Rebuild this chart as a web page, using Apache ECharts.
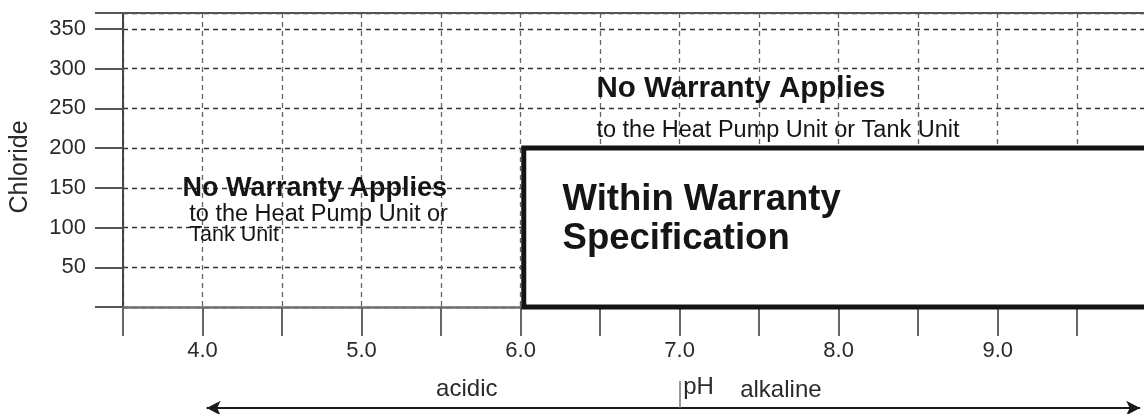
<!DOCTYPE html>
<html>
<head>
<meta charset="utf-8">
<script src="https://cdn.jsdelivr.net/npm/echarts@6/dist/echarts.min.js"></script>
<style>
  html, body { margin: 0; padding: 0; background: #fff; }
  #chart { width: 1144px; height: 414px; }
</style>
</head>
<body>
<div id="chart"></div>
<script>
// pH scale (x) and chloride scale (y)
const phRange = [3.5, 9.92];
const phStep = 0.5;
const phTicks = [3.5, 4, 4.5, 5, 5.5, 6, 6.5, 7, 7.5, 8, 8.5, 9, 9.5];
const phLabels = [4, 5, 6, 7, 8, 9];
const chlorideRange = [0, 370];
const chlorideStep = 50;
const chlorideLabels = [50, 100, 150, 200, 250, 300, 350];

// Region covered by the warranty: pH from 6.02 upward (open to the right), chloride up to 200
const warrantyFrom = [6.02, 0];
const warrantyTo = [10.1, 200];

// Notes as [pH, chloride, text]
const headingNotes = [
  [6.48, 274.5, 'No Warranty Applies']
];
const sideHeadingNotes = [
  [3.877, 148.5, 'No Warranty Applies']
];
const bodyNotes = [
  [6.48, 222, 'to the Heat Pump Unit or Tank Unit'],
  [3.92, 115.5, 'to the Heat Pump Unit or']
];
const smallBodyNotes = [
  [3.92, 90.5, 'Tank Unit']
];
const boxNotes = [
  [6.267, 134.5, 'Within Warranty'],
  [6.267, 85.5, 'Specification']
];

// Direction scale under the axis: arrow ends, neutral point and words [pH, level, text]
const arrowEnds = [4.026, 9.896];
const neutralPh = 7;
const directionNotes = [
  [5.472, 0.66, 'acidic'],
  [7.026, 0.74, 'pH'],
  [7.384, 0.62, 'alkaline']
];

const FONT = "'Liberation Sans', Arial, sans-serif";
const INK = '#151515';

function noteSeries(items, style) {
  return {
    type: 'scatter',
    xAxisIndex: 0,
    yAxisIndex: 0,
    symbolSize: 1,
    itemStyle: { color: 'rgba(0,0,0,0)', opacity: 1 },
    silent: true,
    z: 10,
    data: items.map(n => ({
      value: [n[0], n[1]],
      label: {
        show: true,
        position: [0, 0],
        align: 'left',
        verticalAlign: 'middle',
        formatter: n[2],
        fontFamily: FONT,
        color: INK,
        opacity: 1,
        ...style
      }
    }))
  };
}

const chart = echarts.init(document.getElementById('chart'), null, { renderer: 'canvas' });

chart.setOption({
  animation: false,
  backgroundColor: '#fff',
  grid: [
    { left: 123, right: 0, top: 13, bottom: 107, containLabel: false },
    { left: 123, right: 0, top: 381, height: 27, containLabel: false }
  ],
  xAxis: [
    {
      type: 'value', gridIndex: 0, position: 'bottom',
      min: phRange[0], max: phRange[1], interval: phStep,
      axisLine: { show: true, onZero: false, lineStyle: { color: '#6f6f6f', width: 2.5 } },
      axisTick: { show: true, length: 29, customValues: phTicks, lineStyle: { color: '#666', width: 2 } },
      axisLabel: {
        customValues: phLabels,
        formatter: v => Number(v).toFixed(1),
        margin: 33, fontSize: 22, fontFamily: FONT, color: '#2a2a2a'
      },
      splitLine: { show: true, lineStyle: { color: '#666', width: 1.3, type: [5, 4] } }
    },
    {
      // top frame of the plot
      type: 'value', gridIndex: 0, position: 'top',
      min: phRange[0], max: phRange[1],
      axisLine: { show: true, onZero: false, lineStyle: { color: '#555', width: 2 } },
      axisTick: { show: false }, axisLabel: { show: false }, splitLine: { show: false }
    },
    {
      type: 'value', gridIndex: 1, show: false,
      min: phRange[0], max: phRange[1]
    }
  ],
  yAxis: [
    {
      type: 'value', gridIndex: 0,
      min: chlorideRange[0], max: chlorideRange[1], interval: chlorideStep,
      name: 'Chloride', nameLocation: 'middle', nameRotate: 90, nameGap: 90,
      nameTextStyle: { fontSize: 25, fontFamily: FONT, color: '#2a2a2a', padding: [0, 14, 0, 0] },
      axisLine: { show: true, onZero: false, lineStyle: { color: '#444', width: 2 } },
      axisTick: {
        show: true, length: 28,
        customValues: [chlorideRange[0], ...chlorideLabels, chlorideRange[1]],
        lineStyle: { color: '#555', width: 2 }
      },
      axisLabel: {
        customValues: chlorideLabels,
        margin: 37, fontSize: 22, fontFamily: FONT, color: '#2a2a2a'
      },
      splitLine: { show: true, lineStyle: { color: '#333', width: 1.3, type: [5, 4] } }
    },
    {
      type: 'value', gridIndex: 1, show: false, min: 0, max: 1
    }
  ],
  series: [
    {
      // warranty region: white panel with a heavy frame, open past the right edge
      type: 'custom', xAxisIndex: 0, yAxisIndex: 0, silent: true, z: 5, clip: false,
      data: [[warrantyFrom[0], warrantyFrom[1], warrantyTo[0], warrantyTo[1]]],
      renderItem: (params, api) => {
        const a = api.coord([api.value(0), api.value(1)]);
        const b = api.coord([api.value(2), api.value(3)]);
        return {
          type: 'group',
          children: [
            {
              type: 'rect',
              shape: { x: a[0], y: b[1], width: b[0] - a[0], height: a[1] - b[1] },
              style: { fill: '#fff' }
            },
            {
              type: 'polyline',
              shape: { points: [[b[0], b[1]], [a[0], b[1]], [a[0], a[1]], [b[0], a[1]]] },
              style: { stroke: '#141414', lineWidth: 5, fill: null, lineJoin: 'miter' }
            }
          ]
        };
      }
    },
    noteSeries(headingNotes, { fontSize: 29.5, fontWeight: 'bold' }),
    noteSeries(sideHeadingNotes, { fontSize: 27, fontWeight: 'bold' }),
    noteSeries(bodyNotes, { fontSize: 23.5 }),
    noteSeries(smallBodyNotes, { fontSize: 21.5 }),
    noteSeries(boxNotes, { fontSize: 36.5, fontWeight: 'bold' }),
    {
      // acidic / alkaline arrow and neutral mark
      type: 'line', xAxisIndex: 2, yAxisIndex: 1, data: [], silent: true,
      markLine: {
        silent: true,
        label: { show: false },
        symbolSize: [11, 14],
        data: [
          [
            { coord: [arrowEnds[0], 0], symbol: 'arrow', lineStyle: { color: '#1a1a1a', width: 2, type: 'solid' } },
            { coord: [arrowEnds[1], 0], symbol: 'arrow' }
          ],
          [
            { coord: [neutralPh, 0], symbol: 'none', lineStyle: { color: '#777', width: 1.5, type: 'solid' } },
            { coord: [neutralPh, 1], symbol: 'none' }
          ]
        ]
      }
    },
    {
      type: 'scatter', xAxisIndex: 2, yAxisIndex: 1, symbolSize: 1, silent: true,
      itemStyle: { color: 'rgba(0,0,0,0)', opacity: 1 },
      data: directionNotes.map(n => ({
        value: [n[0], n[1]],
        label: {
          show: true, position: [0, 0], align: 'left', verticalAlign: 'middle',
          formatter: n[2], fontSize: 24, fontFamily: FONT, color: '#2a2a2a', opacity: 1
        }
      }))
    }
  ]
});
</script>
</body>
</html>
